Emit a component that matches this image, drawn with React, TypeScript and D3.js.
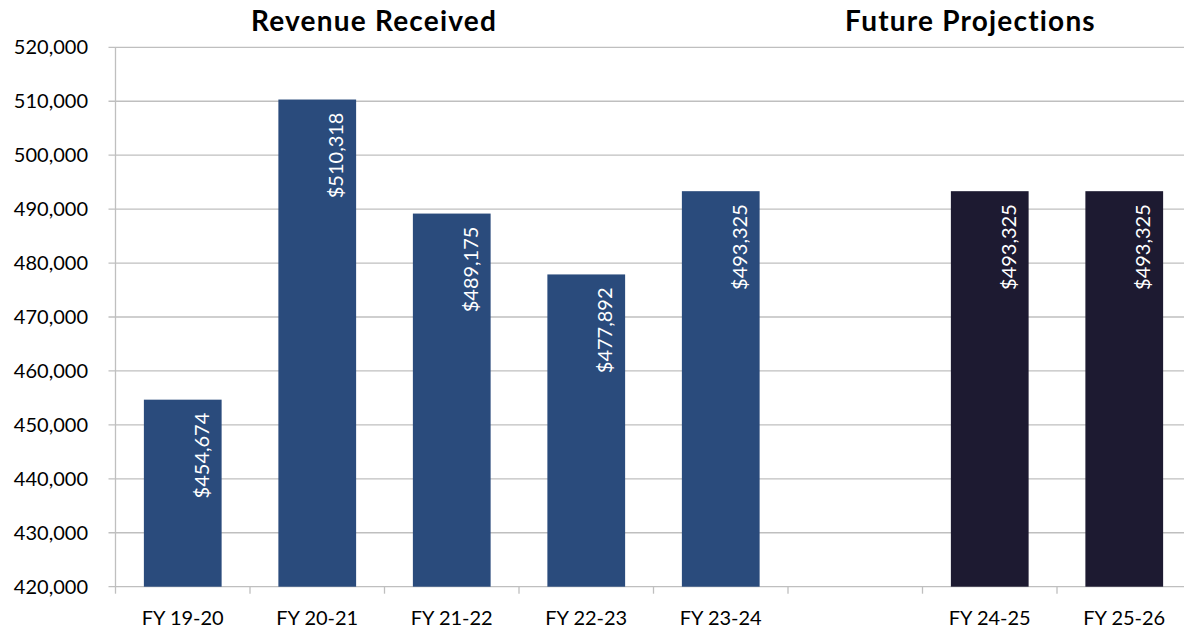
import React from "react";
import * as d3 from "d3";

const categories = ["FY 19-20", "FY 20-21", "FY 21-22", "FY 22-23", "FY 23-24", "", "FY 24-25", "FY 25-26"];
const values: (number | null)[] = [454674, 510318, 489175, 477892, 493325, null, 493325, 493325];
const projected = [false, false, false, false, false, false, true, true];
const yTicks = [420000, 430000, 440000, 450000, 460000, 470000, 480000, 490000, 500000, 510000, 520000];

const W = 1184, H = 630;
const left = 115.5, right = 1191.5, top = 47.3, bottom = 586.7;
const FONT = "Lato, 'Open Sans', sans-serif";

export default function App() {
  const x = d3.scaleBand<string>().domain(categories.map((c, i) => i + "")).range([left, right]).paddingInner(0.422).paddingOuter(0.211);
  const slot = d3.scaleBand<string>().domain(categories.map((c, i) => i + "")).range([left, right]);
  const y = d3.scaleLinear().domain([420000, 520000]).range([bottom, top]);
  const fmt = d3.format(",");
  const grid = "#bfbfbf";
  return (
    <svg width={W} height={H} style={{ position: "absolute", left: 0, top: 0, background: "#fff" }}>
      {yTicks.map((t) => (
        <g key={t}>
          <line x1={left - 7} x2={W} y1={y(t)} y2={y(t)} stroke={grid} strokeWidth={1.3} />
          <text x={88} y={y(t) + 7} textAnchor="end" fontFamily={FONT} fontSize={20} fill="#000">{fmt(t)}</text>
        </g>
      ))}
      <line x1={left} x2={left} y1={top} y2={bottom} stroke={grid} strokeWidth={1.3} />
      {categories.map((c, i) => (
        <line key={"t" + i} x1={slot(i + "")!} x2={slot(i + "")!} y1={bottom} y2={bottom + 7} stroke={grid} strokeWidth={1.3} />
      ))}
      {values.map((v, i) =>
        v == null ? null : (
          <g key={"b" + i}>
            <rect x={x(i + "")!} width={x.bandwidth()} y={y(v)} height={bottom - y(v)} fill={projected[i] ? "#1d1a31" : "#2a4b7c"} />
            <text
              transform={`translate(${x(i + "")! + x.bandwidth() / 2 + 26},${y(v) + 13}) rotate(-90)`}
              textAnchor="end"
              fontFamily={FONT}
              fontSize={20}
              fill="#fff"
            >{"$" + fmt(v)}</text>
          </g>
        )
      )}
      {categories.map((c, i) => (
        <text key={"l" + i} x={x(i + "")! + x.bandwidth() / 2} y={625} textAnchor="middle" fontFamily={FONT} fontSize={20} fill="#000">{c}</text>
      ))}
      <text x={374} y={31} textAnchor="middle" fontFamily={FONT} fontWeight="bold" fontSize={28} letterSpacing={1.2} fill="#000">Revenue Received</text>
      <text x={970.5} y={31} textAnchor="middle" fontFamily={FONT} fontWeight="bold" fontSize={28} letterSpacing={1.2} fill="#000">Future Projections</text>
    </svg>
  );
}
